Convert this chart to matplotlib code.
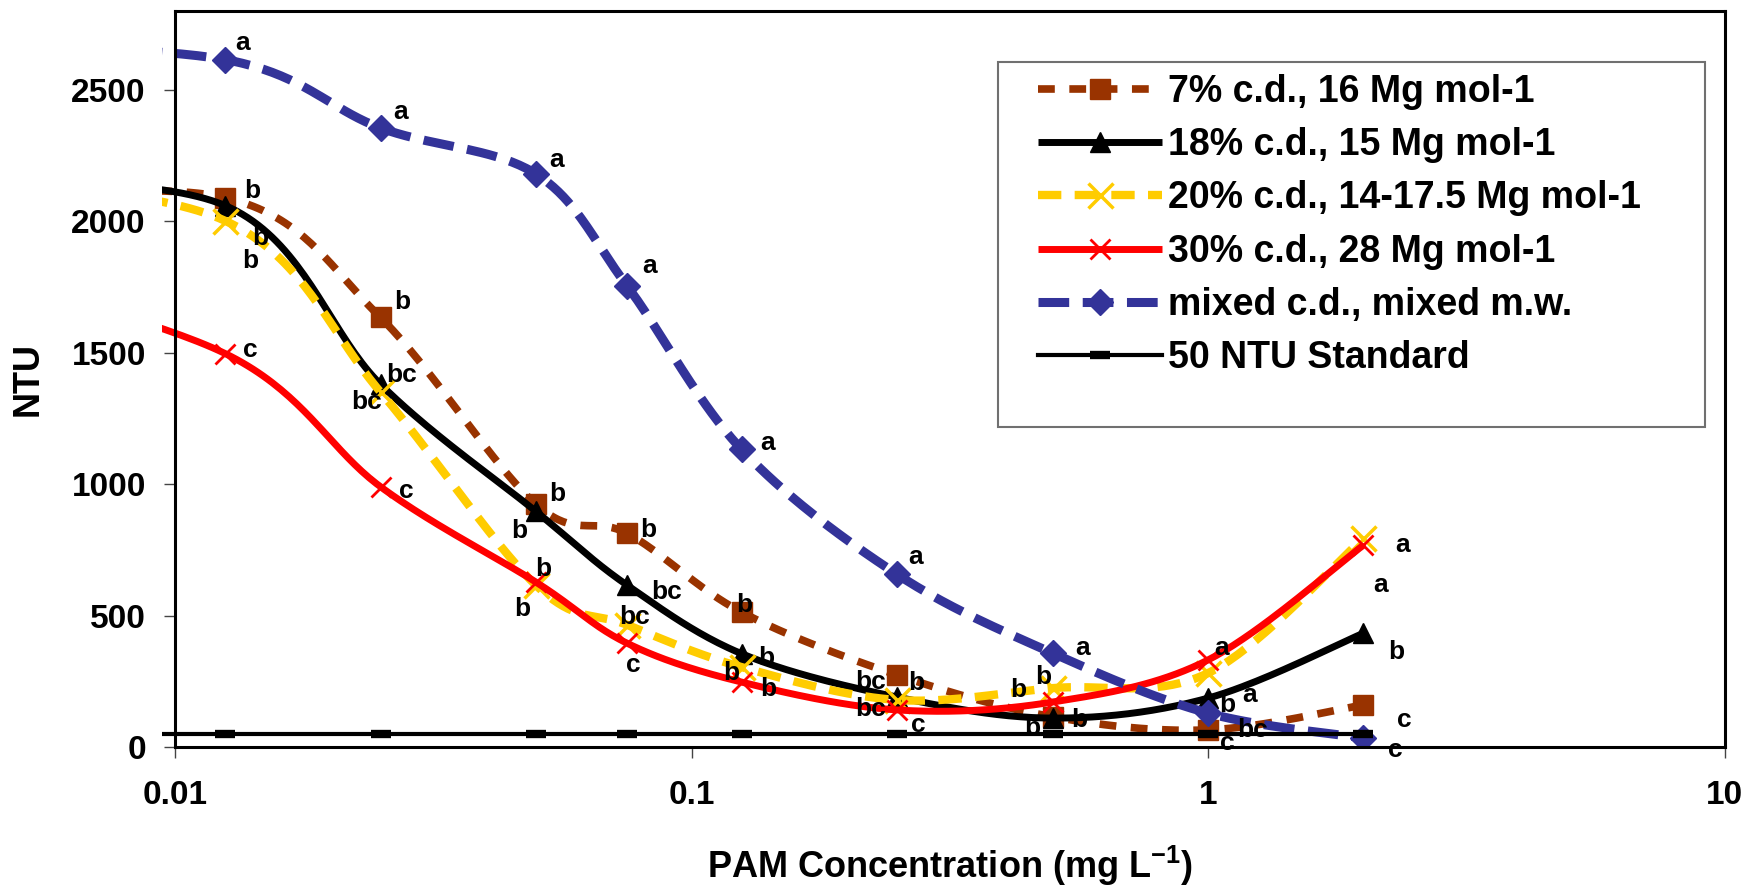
import numpy as np
import matplotlib.pyplot as plt
from matplotlib.patches import Rectangle

plt.rcParams['font.family'] = ['Liberation Sans', 'DejaVu Sans']
plt.rcParams['font.weight'] = 'bold'
plt.rcParams['mathtext.fontset'] = 'custom'
plt.rcParams['mathtext.rm'] = 'Liberation Sans:bold'
plt.rcParams['mathtext.bf'] = 'Liberation Sans:bold'
plt.rcParams['mathtext.it'] = 'Liberation Sans:bold'

# PAM dose (mg/L). The first entry sits off the axis to the left (no marker); it only sets
# how the smoothed curves run in across the left edge.
conc = [0.003, 0.0125, 0.025, 0.05, 0.075, 0.125, 0.25, 0.5, 1, 2]

names = ['7% c.d., 16 Mg mol-1', '18% c.d., 15 Mg mol-1', '20% c.d., 14-17.5 Mg mol-1',
         '30% c.d., 28 Mg mol-1', 'mixed c.d., mixed m.w.', '50 NTU Standard']

ntu_7 = [2060, 2090, 1634, 923, 813, 513, 274, 115, 65, 160]
ntu_18 = [2150, 2060, 1380, 896, 616, 355, 190, 110, 186, 433]
ntu_20 = [2180, 2002, 1350, 615, 465, 304, 179, 224, 281, 794]
ntu_30 = [1870, 1497, 990, 627, 395, 247, 141, 171, 331, 768]
ntu_mixed = [2680, 2615, 2355, 2180, 1755, 1132, 657, 357, 129, 34]
ntu_std = [50, 50, 50, 50, 50, 50, 50, 50, 50, 50]

# significance letters at the measured doses (0.0125 ... 2)
let_7 = ['b', 'b', 'b', 'b', 'b', 'b', 'b', 'c', 'c']
let_18 = ['b', 'bc', 'b', 'bc', 'b', 'bc', 'b', 'b', 'b']
let_20 = ['b', 'bc', 'b', 'bc', 'b', 'bc', 'b', 'a', 'a']
let_30 = ['c', 'c', 'b', 'c', 'b', 'c', 'b', 'a', 'a']
let_mixed = ['a', 'a', 'a', 'a', 'a', 'a', 'a', 'bc', 'c']

# where each letter sits relative to its marker (pixels, up is +)
off_7 = [(27, 7), (22, 15), (21, 10), (21, 3), (3, 7), (19, -8), (-20, -11), (19, -13), (41, -15)]
off_18 = [(35, -32), (21, 9), (-17, -20), (40, -7), (25, -4), (-26, 15), (27, -2), (19, -7), (33, -19)]
off_20 = [(25, -40), (-14, -10), (-14, -24), (8, 8), (-10, -6), (-26, -9), (-9, 11), (42, -22), (17, -47)]
off_30 = [(25, 4), (26, -4), (7, 13), (6, -22), (27, -7), (21, -15), (-34, 12), (14, 12), (39, 0)]
off_mixed = [(18, 17), (20, 16), (21, 14), (23, 20), (26, 6), (19, 17), (30, 5), (45, -17), (32, -12)]


def smooth(xs, ys, n=40):
    # Excel style smoothed line: cubic Bezier pieces with Catmull-Rom handles, in log-x space
    px = np.log10(np.asarray(xs, float))
    py = np.asarray(ys, float)
    pts = np.column_stack([px, py])
    pts = np.vstack([pts[0], pts, pts[-1]])
    t = np.linspace(0, 1, n)[:, None]
    segs = []
    for i in range(1, len(pts) - 2):
        p0, p3 = pts[i], pts[i + 1]
        c1 = p0 + (pts[i + 1] - pts[i - 1]) / 6
        c2 = p3 - (pts[i + 2] - pts[i]) / 6
        seg = (1 - t)**3 * p0 + 3 * (1 - t)**2 * t * c1 + 3 * (1 - t) * t**2 * c2 + t**3 * p3
        segs.append(seg if i == 1 else seg[1:])
    curve = np.vstack(segs)
    return 10**curve[:, 0], curve[:, 1]


fig = plt.figure(figsize=(17.47, 8.88), dpi=100)
ax = fig.add_axes([175 / 1747, 141 / 888, 1549.5 / 1747, 736 / 888])


def edge_clip(artist):
    # lines poke a few pixels past the left axis, as in the original
    artist.set_clip_path(Rectangle((-0.0085, -0.01), 1.0085, 1.02, transform=ax.transAxes))


series = [
    (ntu_7, let_7, off_7, dict(color='#993300', lw=5.5, dashes=(2.2, 1.9)),
     dict(marker='s', ms=15, color='#993300')),
    (ntu_18, let_18, off_18, dict(color='black', lw=5),
     dict(marker='^', ms=15, color='black')),
    (ntu_20, let_20, off_20, dict(color='#FFCC00', lw=6, dashes=(2.8, 1.6)),
     dict(marker='x', ms=18, mew=2.5, color='#FFCC00')),
    (ntu_30, let_30, off_30, dict(color='#FF0000', lw=5),
     dict(marker='x', ms=15, mew=2, color='#FF0000')),
    (ntu_mixed, let_mixed, off_mixed, dict(color='#333399', lw=6.5, dashes=(3.4, 1.5)),
     dict(marker='D', ms=13, color='#333399')),
]

handles = []
for vals, lets, offs, lstyle, mstyle in series:
    sx, sy = smooth(conc, vals)
    ln, = ax.plot(sx, sy, solid_capstyle='butt', dash_capstyle='butt', **lstyle)
    edge_clip(ln)
    mk, = ax.plot(conc[1:], vals[1:], ls='none', **mstyle)
    handles.append((ln, mk))
    for c, v, s, (dx, dy) in zip(conc[1:], vals[1:], lets, offs):
        ax.annotate(s, (c, v), xytext=(dx, dy), textcoords='offset pixels',
                    ha='center', va='center', fontsize=19, fontweight='bold')

ln, = ax.plot(conc, ntu_std, color='black', lw=3, zorder=3)
edge_clip(ln)
mk, = ax.plot(conc[1:], ntu_std[1:], ls='none', marker='_', ms=14, mew=6, color='black', zorder=3)
handles.append((ln, mk))

ax.set_xscale('log')
ax.set_xlim(0.01, 10)
ax.set_ylim(0, 2800)
ax.set_xticks([0.01, 0.1, 1, 10])
ax.set_xticklabels(['0.01', '0.1', '1', '10'])
ax.xaxis.set_minor_locator(plt.NullLocator())
ax.set_yticks([0, 500, 1000, 1500, 2000, 2500])
ax.tick_params(axis='both', direction='out', length=8, width=1, labelsize=24, color='#444444')
ax.tick_params(axis='x', pad=16)
ax.tick_params(axis='y', pad=13)
for sp in ax.spines.values():
    sp.set_linewidth(2.2)
    sp.set_color('black')

ax.set_xlabel('PAM Concentration (mg L$^{-1}$)', fontsize=26, fontweight='bold', va='center')
ax.xaxis.set_label_coords(0.5, -0.162)
ax.set_ylabel('NTU', fontsize=26, fontweight='bold', va='center', ha='center')
ax.yaxis.set_label_coords(-0.095, 0.5)

ax.add_patch(Rectangle((998 / 1747, 1 - 427 / 888), 707 / 1747, 365 / 888,
                       transform=fig.transFigure, facecolor='white', edgecolor='#707070',
                       lw=1.5, zorder=4, clip_on=False))
ax.legend(handles, names, loc='upper left', bbox_to_anchor=(1038 / 1747, 1 - 74 / 888),
          bbox_transform=fig.transFigure, frameon=False, borderpad=0, borderaxespad=0,
          handlelength=3.3, handletextpad=0.16, labelspacing=0.46,
          prop={'size': 27, 'weight': 'bold'})

fig.savefig('out.png', dpi=100)
